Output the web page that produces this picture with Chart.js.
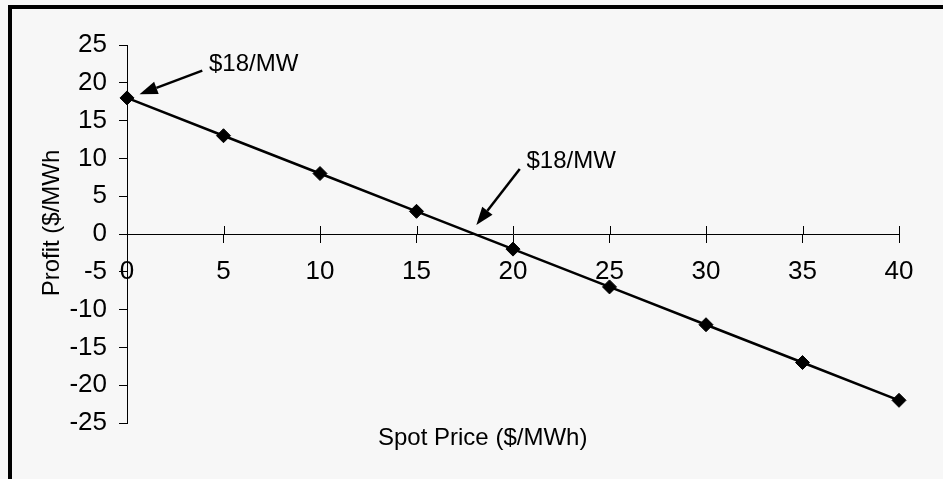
<!DOCTYPE html>
<html>
<head>
<meta charset="utf-8">
<script src="https://cdn.jsdelivr.net/npm/chart.js@4/dist/chart.umd.min.js"></script>
<style>
  html, body { margin: 0; padding: 0; background: #f7f7f7; }
  #wrap { position: relative; width: 943px; height: 479px; overflow: hidden; }
  #frame { position: absolute; left: 8px; top: 5px; right: -10px; bottom: -10px;
           border-top: 4px solid #000; border-left: 4px solid #000; pointer-events: none; }
</style>
</head>
<body>
<div id="wrap">
  <canvas id="profitChart"></canvas>
  <div id="frame"></div>
</div>
<script>
// data
const spotPrices = [0, 5, 10, 15, 20, 25, 30, 35, 40];
const profits = [18, 13, 8, 3, -2, -7, -12, -17, -22];
const xTicks = [0, 5, 10, 15, 20, 25, 30, 35, 40];
const yTicks = [-25, -20, -15, -10, -5, 0, 5, 10, 15, 20, 25];
const noteLabel = '$18/MW';
const xTitle = 'Spot Price ($/MWh)';
const yTitle = 'Profit ($/MWh';

const FONT = '"Liberation Sans", Arial, sans-serif';

// titles, crossing tick marks and the two arrow notes
const extras = {
    id: 'extras',
    afterDraw(chart) {
        const c = chart.ctx;
        const x = chart.scales.x, y = chart.scales.y;
        const y0 = y.getPixelForValue(0);
        c.save();
        c.strokeStyle = '#000';
        c.lineWidth = 1;
        xTicks.forEach(v => {
            const px = Math.round(x.getPixelForValue(v)) + 0.5;
            c.beginPath();
            c.moveTo(px, y0 - 8);
            c.lineTo(px, y0);
            c.stroke();
        });

        c.fillStyle = '#000';
        c.font = '24px ' + FONT;
        c.textAlign = 'left';
        c.textBaseline = 'alphabetic';
        c.fillText(xTitle, 378, 445);

        c.save();
        c.translate(59, 223);
        c.rotate(-Math.PI / 2);
        c.textAlign = 'center';
        c.fillText(yTitle, 0, 0);
        c.restore();

        const arrow = (x1, y1, x2, y2) => {
            const ax = x.getPixelForValue(x1), ay = y.getPixelForValue(y1);
            const bx = x.getPixelForValue(x2), by = y.getPixelForValue(y2);
            const ang = Math.atan2(by - ay, bx - ax);
            const len = 18, hw = 6.5;
            const hx = bx - Math.cos(ang) * len, hy = by - Math.sin(ang) * len;
            c.lineWidth = 2.5;
            c.beginPath();
            c.moveTo(ax, ay);
            c.lineTo(hx, hy);
            c.stroke();
            c.beginPath();
            c.moveTo(bx, by);
            c.lineTo(hx + Math.sin(ang) * hw, hy - Math.cos(ang) * hw);
            c.lineTo(hx - Math.sin(ang) * hw, hy + Math.cos(ang) * hw);
            c.closePath();
            c.fill();
        };
        arrow(3.9, 21.6, 0.65, 18.5);
        arrow(20.35, 8.6, 18.1, 1.2);
        c.fillText(noteLabel, x.getPixelForValue(4.25), y.getPixelForValue(21.6));
        c.fillText(noteLabel, x.getPixelForValue(20.7), y.getPixelForValue(8.7));
        c.restore();
    }
};

document.addEventListener('DOMContentLoaded', function () {
    const ctx = document.getElementById('profitChart').getContext('2d');
    new Chart(ctx, {
        type: 'line',
        data: {
            datasets: [{
                data: spotPrices.map((s, i) => ({ x: s, y: profits[i] })),
                borderColor: '#000',
                backgroundColor: '#000',
                borderWidth: 2.5,
                pointStyle: 'rectRot',
                pointRadius: 7,
                pointBorderWidth: 1,
                pointBackgroundColor: '#000',
                tension: 0,
                clip: false
            }]
        },
        options: {
            responsive: true,
            maintainAspectRatio: false,
            animation: false,
            layout: { padding: { left: 0, right: 44, top: 45, bottom: 56 } },
            plugins: { legend: { display: false }, tooltip: { enabled: false } },
            scales: {
                x: {
                    type: 'linear',
                    position: { y: 0 },
                    min: 0, max: 40,
                    afterBuildTicks: s => { s.ticks = xTicks.map(v => ({ value: v })); },
                    ticks: { color: '#000', padding: 14, maxRotation: 0, autoSkip: false,
                             font: { family: FONT, size: 26 } },
                    grid: { drawOnChartArea: false, color: '#000', tickLength: 8, lineWidth: 1 },
                    border: { color: '#000', width: 1 }
                },
                y: {
                    type: 'linear',
                    min: -25, max: 25,
                    afterFit: s => { s.width = 127; },
                    afterBuildTicks: s => { s.ticks = yTicks.map(v => ({ value: v })); },
                    ticks: { color: '#000', padding: 12, autoSkip: false,
                             font: { family: FONT, size: 26 } },
                    grid: { drawOnChartArea: false, color: '#000', tickLength: 8, lineWidth: 1 },
                    border: { color: '#000', width: 1 }
                }
            }
        },
        plugins: [extras]
    });
});
</script>
</body>
</html>
